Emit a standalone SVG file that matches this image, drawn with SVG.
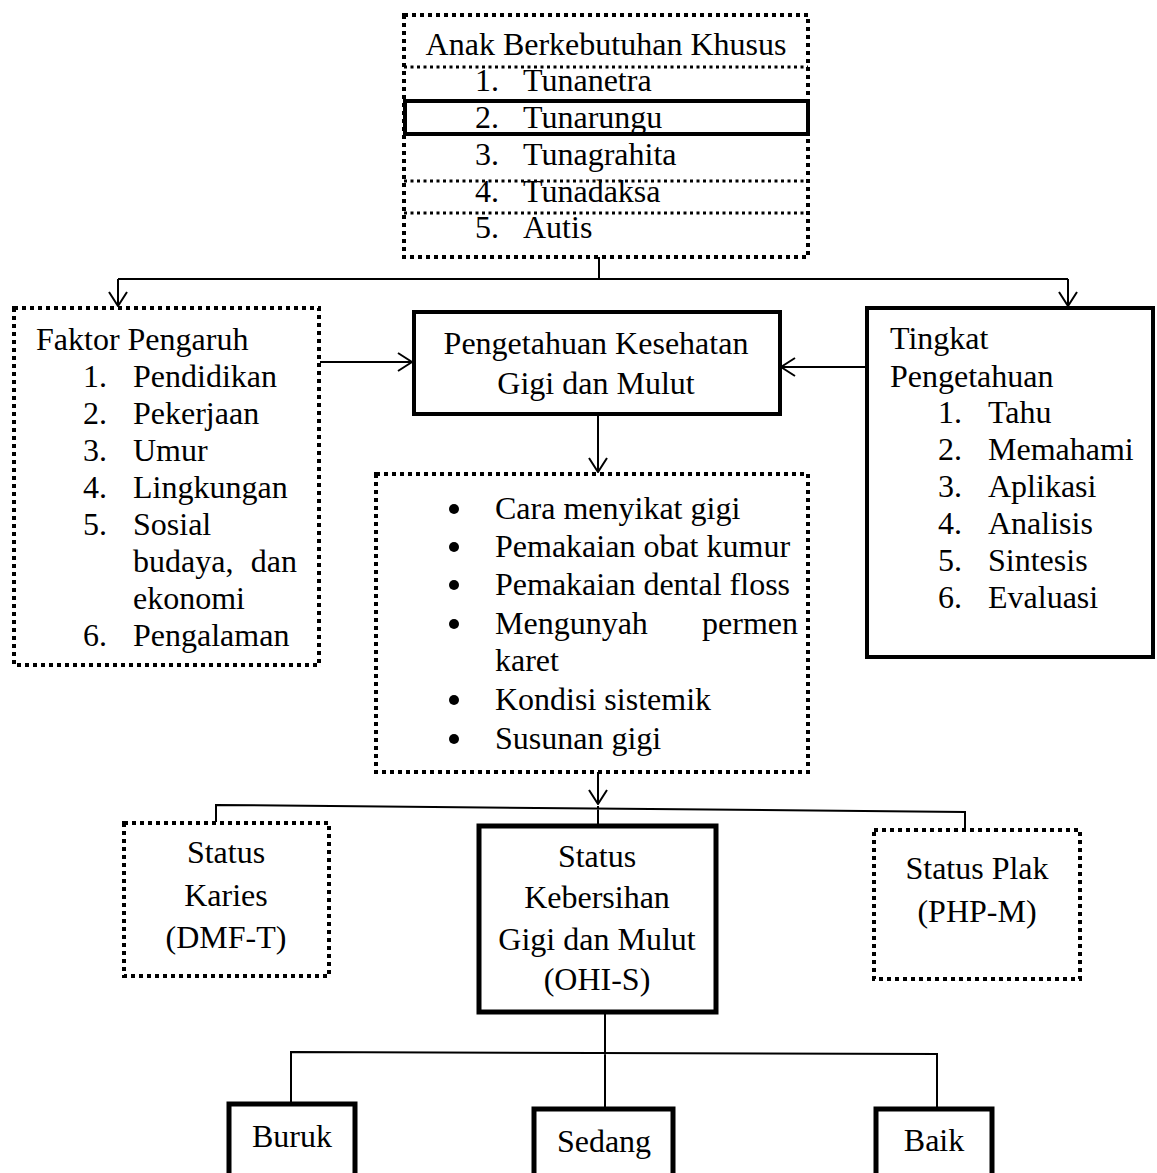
<svg xmlns="http://www.w3.org/2000/svg" width="1157" height="1173" viewBox="0 0 1157 1173">
<style>
text{font-family:"Liberation Serif","Times New Roman",serif;font-size:32px;fill:#000}
.c{text-anchor:middle}
.e{text-anchor:end}
.dot{fill:none;stroke:#000;stroke-width:4;stroke-dasharray:4 4}
.sep{fill:none;stroke:#000;stroke-width:3;stroke-dasharray:3 3.5}
.solid{fill:none;stroke:#000;stroke-width:4}
.thick{fill:none;stroke:#000;stroke-width:5}
.ln{fill:none;stroke:#000;stroke-width:2}
</style>
<defs>
<marker id="arr" viewBox="0 0 16 20" refX="15" refY="10" markerWidth="16" markerHeight="20" markerUnits="userSpaceOnUse" orient="auto">
<path d="M1,1 L15,10 L1,19" fill="none" stroke="#000" stroke-width="2"/>
</marker>
</defs>
<rect width="1157" height="1173" fill="#fff"/>
<g id="connectors">
<path class="ln" d="M599,257 V279 M118,279 H1068"/>
<path class="ln" d="M118,279 V306" marker-end="url(#arr)"/>
<path class="ln" d="M1068,279 V306" marker-end="url(#arr)"/>
<path class="ln" d="M320,362 H412" marker-end="url(#arr)"/>
<path class="ln" d="M866,367 H781" marker-end="url(#arr)"/>
<path class="ln" d="M598,415 V472" marker-end="url(#arr)"/>
<path class="ln" d="M598,772 V804" marker-end="url(#arr)"/>
<path class="ln" d="M216,822 V805 L965,812 V829 M598,806 V825"/>
<path class="ln" d="M605,1012 V1108 M291,1103 V1052 L937,1054 V1108"/>
</g>
<g id="abk">
<rect class="dot" x="404" y="15" width="404" height="242"/>
<line class="sep" x1="404" y1="67" x2="808" y2="67"/>
<line class="sep" x1="404" y1="181" x2="808" y2="181"/>
<line class="sep" x1="404" y1="213" x2="808" y2="213"/>
<rect class="solid" x="405" y="101" width="403" height="33"/>
<text class="c" x="606" y="55">Anak Berkebutuhan Khusus</text>
<text x="475" y="91">1.</text><text x="523" y="91">Tunanetra</text>
<text x="475" y="128">2.</text><text x="523" y="128">Tunarungu</text>
<text x="475" y="165">3.</text><text x="523" y="165">Tunagrahita</text>
<text x="475" y="202">4.</text><text x="523" y="202">Tunadaksa</text>
<text x="475" y="238">5.</text><text x="523" y="238">Autis</text>
</g>
<g id="faktor">
<rect class="dot" x="14" y="308" width="305" height="357"/>
<text x="36" y="350">Faktor Pengaruh</text>
<text x="83" y="387">1.</text><text x="133" y="387">Pendidikan</text>
<text x="83" y="424">2.</text><text x="133" y="424">Pekerjaan</text>
<text x="83" y="461">3.</text><text x="133" y="461">Umur</text>
<text x="83" y="498">4.</text><text x="133" y="498">Lingkungan</text>
<text x="83" y="535">5.</text><text x="133" y="535">Sosial</text>
<text x="133" y="572">budaya,</text><text class="e" x="297" y="572">dan</text>
<text x="133" y="609">ekonomi</text>
<text x="83" y="646">6.</text><text x="133" y="646">Pengalaman</text>
</g>
<g id="pengetahuan">
<rect class="solid" x="414" y="312" width="366" height="102"/>
<text class="c" x="596" y="354">Pengetahuan Kesehatan</text>
<text class="c" x="596" y="394">Gigi dan Mulut</text>
</g>
<g id="tingkat">
<rect class="solid" x="867" y="308" width="286" height="349"/>
<text x="890" y="349">Tingkat</text>
<text x="890" y="387">Pengetahuan</text>
<text x="938" y="423">1.</text><text x="988" y="423">Tahu</text>
<text x="938" y="460">2.</text><text x="988" y="460">Memahami</text>
<text x="938" y="497">3.</text><text x="988" y="497">Aplikasi</text>
<text x="938" y="534">4.</text><text x="988" y="534">Analisis</text>
<text x="938" y="571">5.</text><text x="988" y="571">Sintesis</text>
<text x="938" y="608">6.</text><text x="988" y="608">Evaluasi</text>
</g>
<g id="faktor-gigi">
<rect class="dot" x="376" y="474" width="432" height="298"/>
<circle cx="454" cy="509" r="5"/><text x="495" y="519">Cara menyikat gigi</text>
<circle cx="454" cy="547" r="5"/><text x="495" y="557">Pemakaian obat kumur</text>
<circle cx="454" cy="585" r="5"/><text x="495" y="595">Pemakaian dental floss</text>
<circle cx="454" cy="624" r="5"/><text x="495" y="634">Mengunyah</text><text class="e" x="798" y="634">permen</text>
<text x="495" y="671">karet</text>
<circle cx="454" cy="700" r="5"/><text x="495" y="710">Kondisi sistemik</text>
<circle cx="454" cy="739" r="5"/><text x="495" y="749">Susunan gigi</text>
</g>
<g id="karies">
<rect class="dot" x="124" y="823" width="205" height="153"/>
<text class="c" x="226" y="863">Status</text>
<text class="c" x="226" y="906">Karies</text>
<text class="c" x="226" y="948">(DMF-T)</text>
</g>
<g id="ohis">
<rect class="thick" x="479" y="826" width="237" height="186"/>
<text class="c" x="597" y="867">Status</text>
<text class="c" x="597" y="908">Kebersihan</text>
<text class="c" x="597" y="950">Gigi dan Mulut</text>
<text class="c" x="597" y="990">(OHI-S)</text>
</g>
<g id="plak">
<rect class="dot" x="874" y="830" width="206" height="149"/>
<text class="c" x="977" y="879">Status Plak</text>
<text class="c" x="977" y="922">(PHP-M)</text>
</g>
<g id="buruk">
<rect class="thick" x="229" y="1104" width="126" height="80"/>
<text class="c" x="292" y="1147">Buruk</text>
</g>
<g id="sedang">
<rect class="thick" x="534" y="1109" width="139" height="80"/>
<text class="c" x="604" y="1152">Sedang</text>
</g>
<g id="baik">
<rect class="thick" x="876" y="1109" width="116" height="80"/>
<text class="c" x="934" y="1151">Baik</text>
</g>
</svg>
